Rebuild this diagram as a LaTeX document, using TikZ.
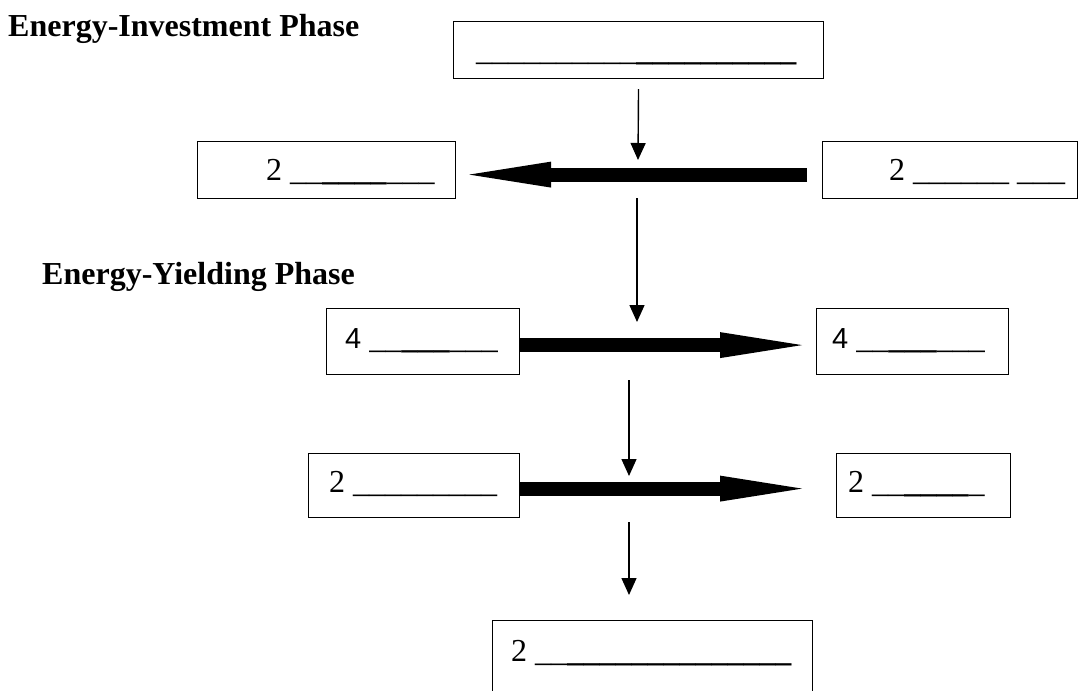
\documentclass[tikz,border=0pt]{standalone}
\usepackage{fontspec}
\setmainfont{Liberation Serif}
\newfontfamily\arialf{Liberation Sans}
\usetikzlibrary{arrows.meta}
\begin{document}
\begin{tikzpicture}[x=1pt,y=-1pt,
  box/.style={draw, line width=1.2pt, inner sep=0pt, anchor=north west},
  lbl/.style={anchor=base west, inner sep=0pt, font=\fontsize{32}{38}\selectfont},
  head/.style={anchor=base west, inner sep=0pt, font=\fontsize{32}{38}\selectfont\bfseries},
  varrow/.style={line width=1.4pt, -{Triangle[length=17pt,width=15pt]}},
  bigarrow/.style={line width=14pt, -{Triangle[length=82pt,width=26pt,line width=0pt]}}]
\useasboundingbox (0,0) rectangle (1080,691);
\clip (0,0) rectangle (1080,691);

% headings
\node[head] (h1) at (8,36) {Energy-Investment Phase};
\node[head] (h2) at (42,284) {Energy-Yielding Phase};

% boxes
\node[box, minimum width=370pt, minimum height=57pt] (top) at (453,21) {};
\node[box, minimum width=258pt, minimum height=57pt] (r2L) at (197,141) {};
\node[box, minimum width=255pt, minimum height=57pt] (r2R) at (822,141) {};
\node[box, minimum width=193pt, minimum height=66pt] (r3L) at (326,308) {};
\node[box, minimum width=192pt, minimum height=66pt] (r3R) at (816,308) {};
\node[box, minimum width=211pt, minimum height=64pt] (r4L) at (308,453) {};
\node[box, minimum width=174pt, minimum height=64pt] (r4R) at (836,453) {};
\node[box, minimum width=320pt, minimum height=100pt] (bot) at (492,620) {};

% labels
\node[lbl] (ttop) at (476,60) {\_\_\_\_\_\_\_\_\_\_\textbf{\_\_\_\_\_\_\_\_\_\_}};
\node[lbl] (t2L) at (266,180) {2 \_\_\textbf{\_\_\_\_}\_\_\_};
\node[lbl] (t2R) at (889,180) {2 \_\_\_\_\_\_ \_\_\_};
\node[lbl] (t3L) at (345,348) {{\arialf\fontsize{29}{34}\selectfont 4} \_\_\textbf{\_\_\_}\_\_\_};
\node[lbl] (t3R) at (832,348) {{\arialf\fontsize{29}{34}\selectfont 4} \_\_\textbf{\_\_\_}\_\_\_};
\node[lbl] (t4L) at (329,492) {2 \_\_\_\_\_\_\_\_\_};
\node[lbl] (t4R) at (848,492) {2 \_\_\textbf{\_\_\_\_}\_};
\node[lbl] (tbot) at (511,661) {2 \_\_\textbf{\_\_\_\_\_\_\_\_\_\_\_\_\_\_}};

% free ends of the vertical arrows
\coordinate (a1e) at (638,160);
\coordinate (a2s) at (637,198);
\coordinate (a2e) at (637,322);
\coordinate (a3s) at (629,380);
\coordinate (a3e) at (629,476);
\coordinate (a4s) at (629,522);
\coordinate (a4e) at (629,595);

\draw[varrow, shorten <=10pt] (top.south) -- (a1e);
\draw[varrow] (a2s) -- (a2e);
\draw[varrow] (a3s) -- (a3e);
\draw[varrow] (a4s) -- (a4e);

% thick arrows
\draw[bigarrow, shorten <=15pt, shorten >=13pt] ([yshift=-4.5pt]r2R.west) -- ([yshift=-4.5pt]r2L.east);
\draw[bigarrow, shorten >=14pt] ([yshift=-3.5pt]r3L.east) -- ([yshift=-3.5pt]r3R.west);
\draw[bigarrow, shorten >=34pt] ([yshift=-3pt]r4L.east) -- ([yshift=-3pt]r4R.west);
\end{tikzpicture}
\end{document}
